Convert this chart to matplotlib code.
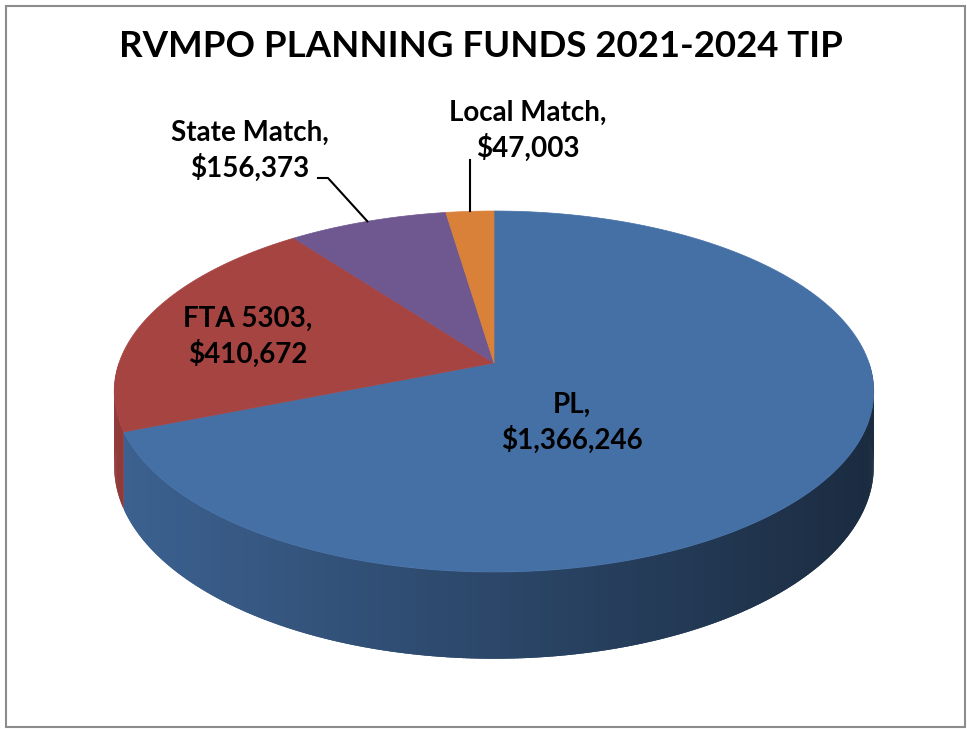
"""RVMPO planning funds 3D pie, drawn in pixel space."""
import numpy as np
import matplotlib.pyplot as plt
from matplotlib.colors import to_rgb
from matplotlib.patches import Polygon, Rectangle
from matplotlib.collections import PolyCollection

plt.rcParams["font.family"] = ["Lato", "DejaVu Sans"]

TITLE = "RVMPO PLANNING FUNDS 2021-2024 TIP"
categories = ["PL", "FTA 5303", "State Match", "Local Match"]
values = [1366246, 410672, 156373, 47003]
colors = ["#4570A6", "#A64442", "#6F578F", "#DA8139"]
label_pos = [(572, 423), (248, 337), (250, 151), (528, 131)]

# geometry of the tilted pie (pixels); K gives the perspective
CX, CY = 494, 363
A, B = 375, 176
K = 0.158
DEPTH = 73
W, H = 967, 729


def rim(theta, drop=0.0):
    t = np.radians(theta)
    u, v = np.cos(t), np.sin(t)
    s = 1.0 / (1.0 + K * v)
    return CX + A * u * s, CY - B * v * s + drop * DEPTH * s


def shade(color, x):
    f = np.clip(0.87 - 0.48 * (x - 120) / 750, 0.35, 0.9)
    return tuple(c * f for c in to_rgb(color))


fig = plt.figure(figsize=(W / 100, H / 100), dpi=100)
ax = fig.add_axes([0, 0, 1, 1])
ax.set_xlim(0, W)
ax.set_ylim(H, 0)
ax.axis("off")

frac = np.array(values) / sum(values)
ends = 90 - 360 * np.cumsum(frac)
starts = np.concatenate([[90], ends[:-1]])

# side wall, cut into thin overlapping strips so it can be shaded left->right
step, pad = 0.5, 0.3
strips = []
for st, en, col in zip(starts, ends, colors):
    lo, hi = en, st
    for shift in (-360, 0, 360):
        a, b = max(lo + shift, 180), min(hi + shift, 360)
        if b <= a:
            continue
        th = np.linspace(a, b, max(2, int((b - a) / step) + 1))
        for t1, t2 in zip(th[:-1], th[1:]):
            p1, p2 = max(t1 - pad, a), min(t2 + pad, b)
            seg = np.linspace(p1, p2, 4)
            tx, ty = rim(seg)
            bx, by = rim(seg[::-1], 1)
            pts = list(zip(tx, ty)) + list(zip(bx, by))
            v = np.sin(np.radians((t1 + t2) / 2))
            strips.append((v, pts, shade(col, tx.mean())))
strips.sort(key=lambda s: -s[0])
ax.add_collection(PolyCollection([s[1] for s in strips], facecolors=[s[2] for s in strips],
                                 linewidths=0, zorder=1))

# top face
for st, en, col in zip(starts, ends, colors):
    th = np.linspace(st, en, 200)
    xs, ys = rim(th)
    pts = [(CX, CY)] + list(zip(xs, ys))
    ax.add_patch(Polygon(pts, closed=True, facecolor=col, edgecolor=col, lw=0.5, zorder=2))

# labels
for name, val, (lx, ly) in zip(categories, values, label_pos):
    ax.text(lx, ly, f"{name},\n${val:,}", ha="center", va="center", fontsize=20,
            fontweight="bold", linespacing=1.37, color="black", zorder=4)

# leader lines for the two thin slices
mids = (starts + ends) / 2
sx, sy = rim(mids[2])
ax.plot([318, 328, sx], [178, 178, sy], color="black", lw=1.5, zorder=3)
lx, ly = rim(mids[3])
ax.plot([lx, lx], [160, ly], color="black", lw=1.5, zorder=3)

ax.text(481, 46, TITLE, ha="center", va="center", fontsize=26.4, fontweight="bold")

ax.add_patch(Rectangle((6, 6), 959, 721, fill=False, edgecolor="#8c8c8c", lw=1.5, zorder=5))

fig.savefig("out.png", dpi=100)
